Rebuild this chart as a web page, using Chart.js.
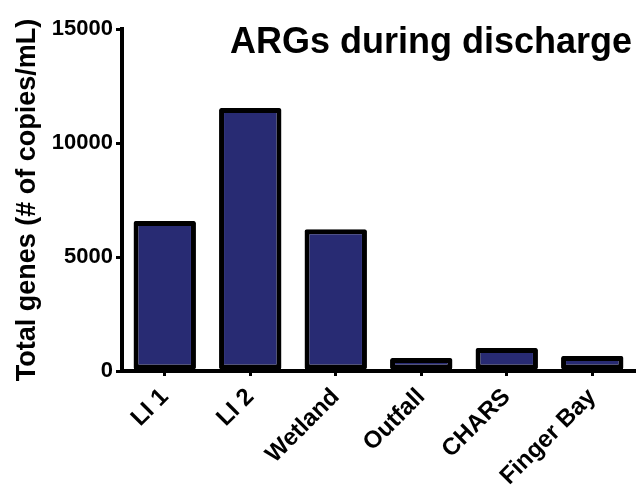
<!DOCTYPE html>
<html>
<head>
<meta charset="utf-8">
<script src="https://cdn.jsdelivr.net/npm/chart.js@4/dist/chart.umd.min.js"></script>
<style>
  html, body { margin: 0; padding: 0; background: #fff; }
  #wrap { width: 636px; height: 491px; position: relative; }
</style>
</head>
<body>
<div id="wrap"><canvas id="grafico"></canvas></div>
<script>
const sitios = ['LI 1', 'LI 2', 'Wetland', 'Outfall', 'CHARS', 'Finger Bay'];
const totalGenes = [6580, 11530, 6220, 570, 1010, 660];
const marcasY = [0, 5000, 10000, 15000];

const titulo = 'ARGs during discharge';
const tituloEje = 'Total genes (# of copies/mL)';

// title sits inside the plot area, top right
const tituloPlugin = {
    id: 'tituloDentro',
    afterDraw(chart) {
        const ctx = chart.ctx;
        const area = chart.chartArea;
        ctx.save();
        ctx.font = 'bold 36px "Liberation Sans", Arial, sans-serif';
        ctx.fillStyle = '#000';
        ctx.textAlign = 'right';
        ctx.textBaseline = 'alphabetic';
        ctx.fillText(titulo, area.right - 3, area.top + 24);
        ctx.restore();
    }
};

const grafico = document.getElementById('grafico');
new Chart(grafico, {
    type: 'bar',
    data: {
        labels: sitios,
        datasets: [
            {
                label: 'Total genes',
                data: totalGenes,
                backgroundColor: '#282b73',
                borderColor: '#000',
                borderWidth: 5,
                borderSkipped: false,
                borderRadius: 2,
                barPercentage: 0.73,
                categoryPercentage: 1
            }
        ]
    },
    options: {
        responsive: true,
        maintainAspectRatio: false,
        animation: false,
        layout: {
            padding: { top: 29, right: 1, left: 0, bottom: 0 }
        },
        plugins: {
            legend: { display: false },
            tooltip: { enabled: false }
        },
        scales: {
            x: {
                offset: true,
                afterFit: (scale) => { scale.height = 120 },
                border: { display: true, color: '#000', width: 4 },
                grid: {
                    display: true,
                    offset: false,
                    drawOnChartArea: false,
                    drawTicks: true,
                    tickLength: 5,
                    lineWidth: 3,
                    color: '#000'
                },
                ticks: {
                    color: '#000',
                    font: { family: '"Liberation Sans", Arial, sans-serif', size: 24, weight: 'bold' },
                    minRotation: 45,
                    maxRotation: 45,
                    padding: 7
                }
            },
            y: {
                min: 0,
                max: 15000,
                afterFit: (scale) => { scale.width = 122 },
                afterBuildTicks: (scale) => {
                    scale.ticks = marcasY.map(v => ({ value: v }))
                },
                border: { display: true, color: '#000', width: 4 },
                grid: {
                    display: true,
                    drawOnChartArea: false,
                    drawTicks: true,
                    tickLength: 6,
                    lineWidth: 3,
                    color: '#000'
                },
                ticks: {
                    color: '#000',
                    font: { family: '"Liberation Sans", Arial, sans-serif', size: 22, weight: 'bold' },
                    padding: 3,
                    callback: (valor) => String(valor)
                },
                title: {
                    display: true,
                    text: tituloEje,
                    color: '#000',
                    font: { family: '"Liberation Sans", Arial, sans-serif', size: 27, weight: 'bold' },
                    padding: { top: 11, bottom: 0 }
                }
            }
        }
    },
    plugins: [tituloPlugin]
});
</script>
</body>
</html>
